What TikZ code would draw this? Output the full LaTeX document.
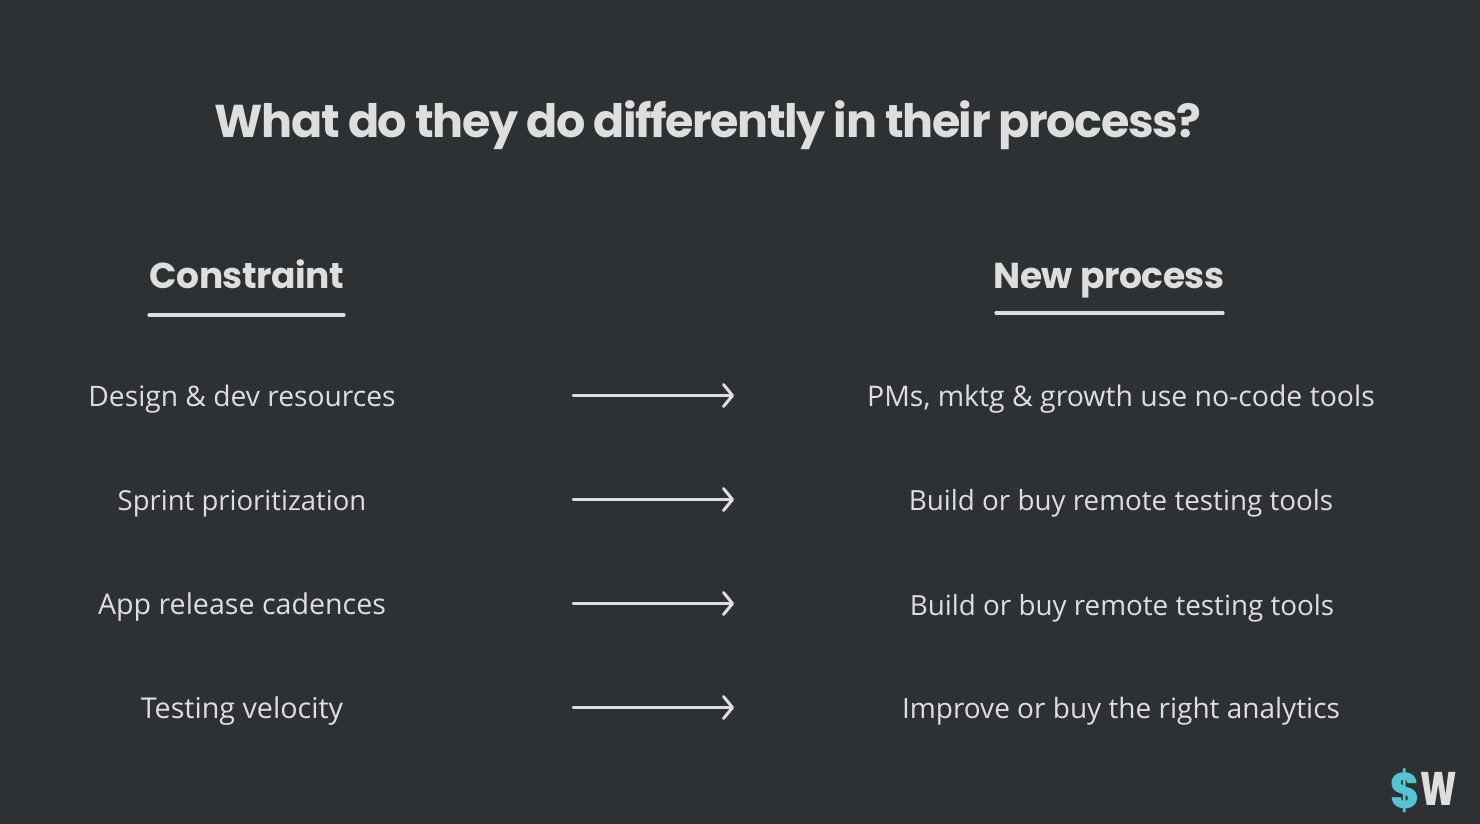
\documentclass[tikz,border=0pt]{standalone}
\usepackage{fontspec}
\setmainfont{Open Sans}
\newfontfamily\headfont[LetterSpace=-3.2]{Poppins Bold}
\newfontfamily\subfont[LetterSpace=-1.2]{Poppins Bold}
\newfontfamily\logofont{Poppins ExtraBold}
\usetikzlibrary{arrows.meta}
\definecolor{bgc}{HTML}{2E3133}
\definecolor{ink}{HTML}{DDDFDF}
\definecolor{teal}{HTML}{55C5D3}
\tikzset{x=1pt,y=-1pt,
 rowtext/.style={text=ink,font=\fontsize{#1}{32}\selectfont,inner sep=0pt,anchor=base},
 headtext/.style={text=ink,font=\subfont\fontsize{36}{40}\selectfont,inner sep=0pt,anchor=base},
 rule/.style={draw=ink,line width=3.2pt,line cap=round},
 flow/.style={draw=ink,line width=2.8pt,line cap=round,-{Straight Barb[length=9pt,width=22pt,line width=3pt,round]}}}
\begin{document}
\begin{tikzpicture}
\useasboundingbox (0,0) rectangle (1480,824);
\fill[bgc] (0,0) rectangle (1480,824);
\node[text=ink,font=\headfont\fontsize{46}{50}\selectfont,inner sep=0pt,anchor=base] (title) at (708,138) {What do they do differently in their process?};
\node[headtext] (h1) at (247,288) {Constraint};
\node[headtext] (h2) at (1109,288) {New process};
\coordinate (u1a) at (149,315); \coordinate (u1b) at (344,315);
\coordinate (u2a) at (996,313); \coordinate (u2b) at (1223,313);
\draw[rule] (u1a) -- (u1b);
\draw[rule] (u2a) -- (u2b);
\node[rowtext=28.2] (c1) at (242,406) {Design \& dev resources};
\node[rowtext=27.5] (c2) at (242,510) {Sprint prioritization};
\node[rowtext=28.6] (c3) at (242,614) {App release cadences};
\node[rowtext=28.7] (c4) at (242,718) {Testing velocity};
\node[rowtext=28.4] (p1) at (1121,406) {PMs, mktg \& growth use no-code tools};
\node[rowtext=27.8] (p2) at (1121,510) {Build or buy remote testing tools};
\node[rowtext=27.8] (p3) at (1122,615) {Build or buy remote testing tools};
\node[rowtext=28] (p4) at (1121,718) {Improve or buy the right analytics};
\foreach \r/\y in {1/395.5,2/499.5,3/603.5,4/707.5}{
 \coordinate (a\r) at (573,\y); \coordinate (b\r) at (734,\y);
 \draw[flow] (a\r) -- (b\r);
}
\node[text=teal,font=\logofont\fontsize{50}{50}\selectfont,inner sep=0pt,anchor=base east,xscale=0.88] (logoS) at (1420,808) {\$};
\node[text=ink,font=\logofont\fontsize{47}{47}\selectfont,inner sep=0pt,anchor=base west,xscale=0.72] (logoW) at (1420.5,805) {W};
\end{tikzpicture}
\end{document}
